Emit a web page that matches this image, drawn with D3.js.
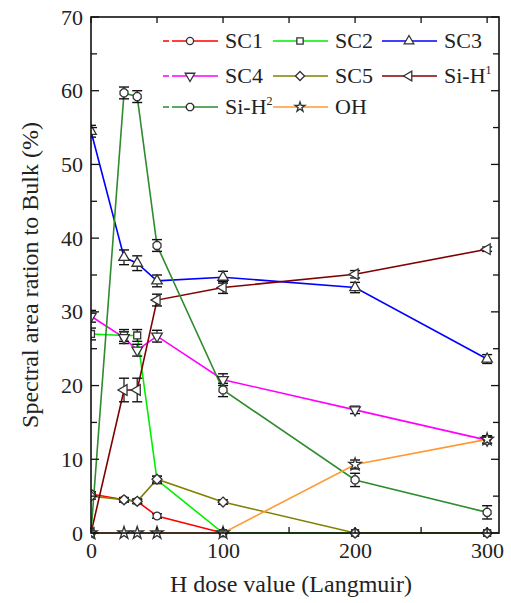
<!DOCTYPE html>
<html><head><meta charset="utf-8">
<script src="https://cdn.jsdelivr.net/npm/d3@7"></script>
<style>body{margin:0;background:#fff}svg{display:block}</style>
</head><body><svg id="c" width="511" height="603" font-family="Liberation Serif"></svg>
<script>
const doses = [0, 25, 35, 50, 100, 200, 300];
const seriesNames = ["SC1","SC2","SC3","SC4","SC5","Si-H1","Si-H2","OH"];
const sc1  = [5.3, 4.5, 4.3, 2.3, 0, 0, 0];
const sc2  = [27.0, 26.8, 26.8, 7.2, 0, 0, 0];
const sc3  = [54.5, 37.4, 36.6, 34.2, 34.7, 33.3, 23.6];
const sc4  = [29.4, 26.5, 24.8, 26.7, 20.8, 16.7, 12.6];
const sc5  = [5.0, 4.5, 4.3, 7.3, 4.2, 0, 0];
const siH1 = [0, 19.4, 19.4, 31.6, 33.3, 35.1, 38.5];
const siH2 = [0, 59.7, 59.2, 39.0, 19.4, 7.2, 2.8];
const oh   = [0, 0, 0, 0, 0, 9.3, 12.7];
const errs = {
  "SC1":[0.3,0.3,0.3,0.3,0,0,0],
  "SC2":[0.8,0.8,0.8,0.5,0,0,0],
  "SC3":[0.8,1.0,1.0,0.8,0.8,0.7,0.6],
  "SC4":[0.8,0.8,0.8,0.8,0.8,0.5,0.5],
  "SC5":[0.4,0.3,0.3,0.4,0.3,0,0],
  "Si-H1":[0,1.6,1.6,0.8,0.8,0.5,0.3],
  "Si-H2":[0,0.8,0.8,0.8,0.9,0.9,0.9],
  "OH":[0,0,0,0,0,0.6,0.5]
};
const xTicks = [0, 100, 200, 300];
const yTicks = [0, 10, 20, 30, 40, 50, 60, 70];

const values = [sc1, sc2, sc3, sc4, sc5, siH1, siH2, oh];
const colors = ["#ff0000","#00ee00","#0000ff","#ff00ff","#808000","#800000","#2e8b2e","#ff9933"];
const shapes = [d3.symbolCircle, d3.symbolSquare, d3.symbolTriangle, "tdown", "diam", "tleft", "penta", d3.symbolStar];

const svg = d3.select("#c");
const L = 91, R = 499, T = 17, B = 533;
const x = d3.scaleLinear().domain([0, 309]).range([L, R]);
const y = d3.scaleLinear().domain([0, 70]).range([B, T]);
const FF = "Liberation Serif";

function markerPath(s, size) {
  if (s === "tdown" || s === "tleft") return d3.symbol(d3.symbolTriangle, size)();
  if (s === "diam") {
    const r = Math.sqrt(size) * 0.72;
    return `M0,${-r}L${r},0L0,${r}L${-r},0Z`;
  }
  if (s === "penta") {
    const r = Math.sqrt(size / 2.6);
    let p = [];
    for (let i = 0; i < 8; i++) { const a = Math.PI / 8 + i * Math.PI / 4; p.push([r * Math.cos(a), r * Math.sin(a)]); }
    return "M" + p.map(q => q.join(",")).join("L") + "Z";
  }
  return d3.symbol(s, size)();
}
function markerRot(s) { return s === "tdown" ? 180 : (s === "tleft" ? -90 : 0); }

svg.append("defs").append("clipPath").attr("id","pc").append("rect")
  .attr("x", L).attr("y", T - 10).attr("width", R - L).attr("height", B - T + 20);

const g = svg.append("g").attr("clip-path","url(#pc)");
const line = d3.line().x((d, i) => x(doses[i])).y(d => y(d));
values.forEach((v, k) => {
  g.append("path").attr("d", line(v)).attr("fill","none")
    .attr("stroke", colors[k]).attr("stroke-width", 1.6);
});
values.forEach((v, k) => {
  const e = errs[seriesNames[k]];
  v.forEach((val, i) => {
    if (!e[i]) return;
    const cx = x(doses[i]), y1 = y(val + e[i]), y2 = y(val - e[i]);
    g.append("line").attr("x1",cx).attr("x2",cx).attr("y1",y1).attr("y2",y2).attr("stroke","#111").attr("stroke-width",1.2);
    [y1, y2].forEach(yy => g.append("line").attr("x1",cx-5).attr("x2",cx+5).attr("y1",yy).attr("y2",yy).attr("stroke","#111").attr("stroke-width",1.4));
  });
});
values.forEach((v, k) => {
  v.forEach((val, i) => {
    g.append("path").attr("d", markerPath(shapes[k], 48))
      .attr("transform", `translate(${x(doses[i])},${y(val)}) rotate(${markerRot(shapes[k])})`)
      .attr("fill","#fff").attr("stroke","#333").attr("stroke-width",1.3);
  });
});

svg.append("rect").attr("x",L).attr("y",T).attr("width",R-L).attr("height",B-T)
  .attr("fill","none").attr("stroke","#111").attr("stroke-width",1.6);

const xMinor = d3.range(0, 301, 50);
const yMinor = d3.range(0, 71, 5);
xMinor.forEach(t => {
  const len = 6;
  svg.append("line").attr("x1",x(t)).attr("x2",x(t)).attr("y1",B).attr("y2",B-len).attr("stroke","#111").attr("stroke-width",1.3);
  svg.append("line").attr("x1",x(t)).attr("x2",x(t)).attr("y1",T).attr("y2",T+len).attr("stroke","#111").attr("stroke-width",1.3);
});
yMinor.forEach(t => {
  const len = (t % 10 === 0) ? 8 : 6;
  svg.append("line").attr("x1",L).attr("x2",L+len).attr("y1",y(t)).attr("y2",y(t)).attr("stroke","#111").attr("stroke-width",1.3);
  svg.append("line").attr("x1",R).attr("x2",R-len).attr("y1",y(t)).attr("y2",y(t)).attr("stroke","#111").attr("stroke-width",1.3);
});

const xAxis = svg.append("g").attr("transform",`translate(0,${B})`)
  .call(d3.axisBottom(x).tickValues(xTicks).tickSize(0).tickPadding(8));
const yAxis = svg.append("g").attr("transform",`translate(${L},0)`)
  .call(d3.axisLeft(y).tickValues(yTicks).tickSize(0).tickPadding(8));
[xAxis, yAxis].forEach(a => {
  a.select(".domain").remove();
  a.attr("font-family", FF).attr("font-size", 22);
  a.selectAll("text").attr("font-family", FF).attr("font-size", 22).attr("fill","#222");
});
xAxis.selectAll("text").attr("dy","0.75em");

svg.append("text").attr("x", 291).attr("y", 592).attr("text-anchor","middle")
  .attr("font-family", FF).attr("font-size", 24).attr("fill","#222").text("H dose value (Langmuir)");
svg.append("text").attr("transform","translate(38,275) rotate(-90)").attr("text-anchor","middle")
  .attr("font-family", FF).attr("font-size", 24).attr("fill","#222").text("Spectral area ration to Bulk (%)");

const colX = [163, 273, 382];
const rowY = [41, 76, 107];
const labels = [["SC1",""],["SC2",""],["SC3",""],["SC4",""],["SC5",""],["Si-H","1"],["Si-H","2"],["OH",""]];
labels.forEach((lab, k) => {
  const c = k % 3, r = Math.floor(k / 3);
  const x0 = colX[c], yy = rowY[r];
  const lg = svg.append("g");
  lg.append("line").attr("x1",x0).attr("x2",x0+55).attr("y1",yy).attr("y2",yy)
    .attr("stroke",colors[k]).attr("stroke-width",1.6)
    .attr("stroke-dasharray", c === 0 ? "6,3,200" : null);
  lg.append("path").attr("d", markerPath(shapes[k], k === 7 ? 30 : 40))
    .attr("transform",`translate(${x0+27},${yy}) rotate(${markerRot(shapes[k])})`)
    .attr("fill","#fff").attr("stroke","#333").attr("stroke-width",1.3);
  const t = lg.append("text").attr("x", x0+62).attr("y", yy+7)
    .attr("font-family", FF).attr("font-size", 22).attr("fill","#222").text(lab[0]);
  if (lab[1]) t.append("tspan").attr("dy",-9).attr("font-size",12).text(lab[1]);
});
</script></body></html>
